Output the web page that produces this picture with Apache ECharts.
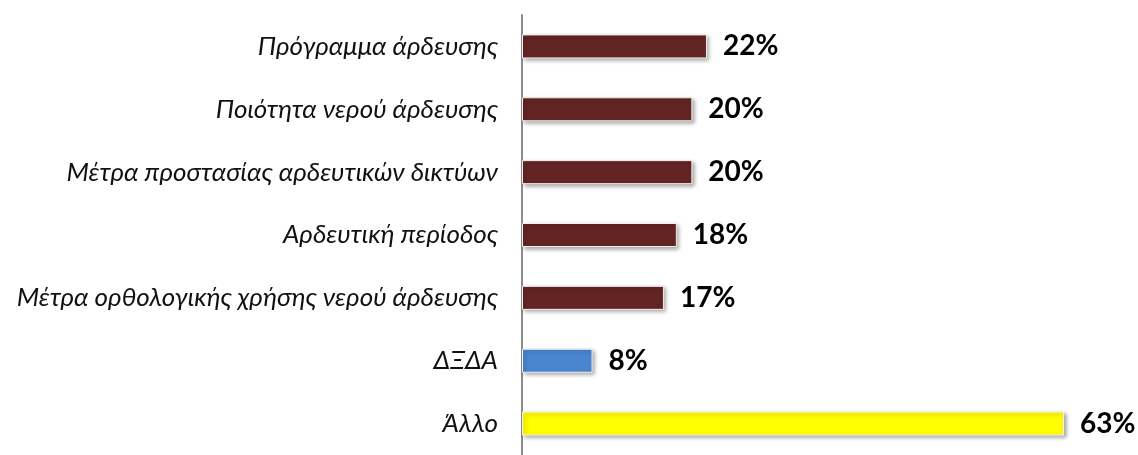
<!DOCTYPE html>
<html>
<head>
<meta charset="utf-8">
<script src="https://cdn.jsdelivr.net/npm/echarts@6/dist/echarts.min.js"></script>
<style>
  html, body { margin: 0; padding: 0; background: #fff; }
  #chart { width: 1138px; height: 455px; }
</style>
</head>
<body>
<div id="chart"></div>
<script>
  // categories from top to bottom
  var categories = [
    'Πρόγραμμα άρδευσης',
    'Ποιότητα νερού άρδευσης',
    'Μέτρα προστασίας αρδευτικών δικτύων',
    'Αρδευτική περίοδος',
    'Μέτρα ορθολογικής χρήσης νερού άρδευσης',
    'ΔΞΔΑ',
    'Άλλο'
  ];
  // shares in % (labels show them rounded)
  var values = [21.5, 19.8, 19.8, 18, 16.5, 8.2, 63];
  var barColors = ['#632523', '#632523', '#632523', '#632523', '#632523', '#4a86d0', '#ffff00'];

  var myChart = echarts.init(document.getElementById('chart'));

  var data = values.map(function (v, i) {
    return { value: v, itemStyle: { color: barColors[i] } };
  });

  var option = {
    animation: false,
    grid: {
      left: 522,
      top: 15,
      width: 542,
      height: 448
    },
    xAxis: {
      type: 'value',
      min: 0,
      max: 63,
      show: false
    },
    yAxis: {
      type: 'category',
      inverse: true,
      data: categories,
      axisLine: { show: true, lineStyle: { color: '#8c8c8c', width: 2 } },
      axisTick: { show: false },
      axisLabel: {
        margin: 24,
        fontFamily: 'Lato',
        fontStyle: 'italic',
        fontSize: 26,
        color: '#111'
      }
    },
    series: [
      {
        type: 'bar',
        data: data,
        barWidth: 24,
        itemStyle: {
          borderColor: '#f4eeee',
          borderWidth: 1,
          shadowColor: 'rgba(0,0,0,0.35)',
          shadowBlur: 4,
          shadowOffsetX: 2,
          shadowOffsetY: 2
        },
        label: {
          show: true,
          position: 'right',
          distance: 16,
          formatter: function (p) { return Math.round(p.value) + '%'; },
          fontFamily: 'Lato',
          fontWeight: 'bold',
          fontSize: 28,
          color: '#000'
        }
      }
    ]
  };
  myChart.setOption(option);
</script>
</body>
</html>
